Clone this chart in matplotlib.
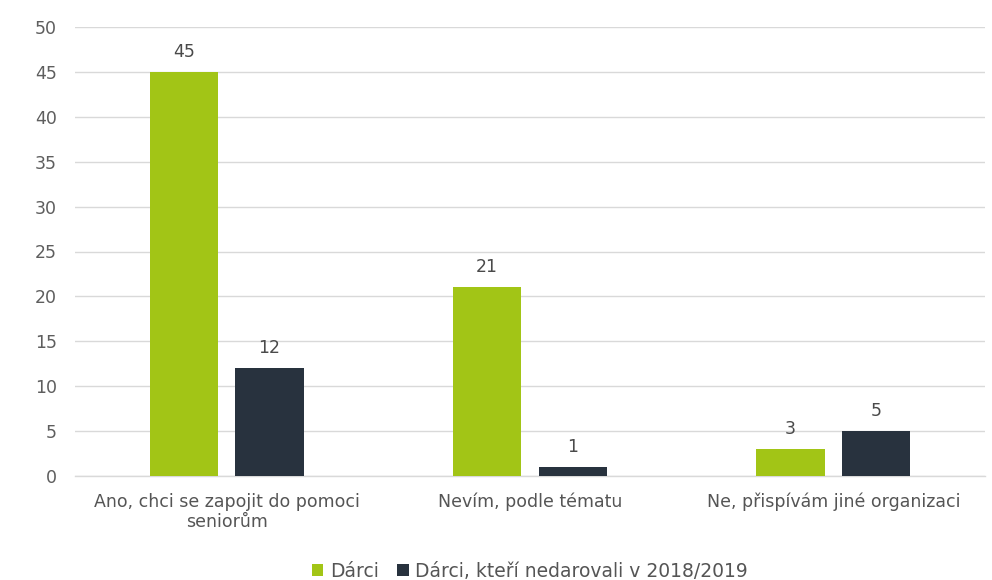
import matplotlib
matplotlib.use("Agg")
import matplotlib.pyplot as plt
import numpy as np

categories = ["Ano, chci se zapojit do pomoci\nseniorům", "Nevím, podle tématu", "Ne, přispívám jiné organizaci"]
series_names = ["Dárci", "Dárci, kteří nedarovali v 2018/2019"]
darci = [45, 21, 3]
nedarovali = [12, 1, 5]
colors = ["#a2c516", "#28323e"]
yticks = [0, 5, 10, 15, 20, 25, 30, 35, 40, 45, 50]

plt.rcParams['font.family'] = ['DejaVu Sans']

fig = plt.figure(figsize=(9.92, 5.8), dpi=100)
ax = fig.add_axes([75/992, 104/580, 910/992, 449/580])

x = np.arange(len(categories))
w = 0.225
off = 0.141
b1 = ax.bar(x - off, darci, w, color=colors[0], label=series_names[0], zorder=3)
b2 = ax.bar(x + off, nedarovali, w, color=colors[1], label=series_names[1], zorder=3)
for b in (b1, b2):
    ax.bar_label(b, padding=8, fontsize=12.5, color="#4a4a4a")

ax.set_xlim(-0.5, 2.5)
ax.set_ylim(0, 50)
ax.set_yticks(yticks)
ax.set_xticks(x)
ax.set_xticklabels(categories, fontsize=12.5, color="#555555", linespacing=1.15)
ax.tick_params(axis='y', length=0, pad=13, labelsize=12.5, labelcolor="#5e5e5e")
ax.tick_params(axis='x', length=0, pad=12)
ax.grid(axis='y', color="#d9d9d9", linewidth=1, zorder=0)
for s in ["left", "right", "top"]:
    ax.spines[s].set_visible(False)
ax.spines["bottom"].set_color("#d9d9d9")
ax.spines["bottom"].set_linewidth(1)

fig.legend(handles=[b1, b2], labels=series_names, loc="lower center",
           bbox_to_anchor=(530/992, -0.03), ncol=2, frameon=False, fontsize=13.5,
           handlelength=0.6, handleheight=0.6, handletextpad=0.35, columnspacing=1.0,
           labelcolor="#555555")

fig.savefig("out.png", dpi=100)
